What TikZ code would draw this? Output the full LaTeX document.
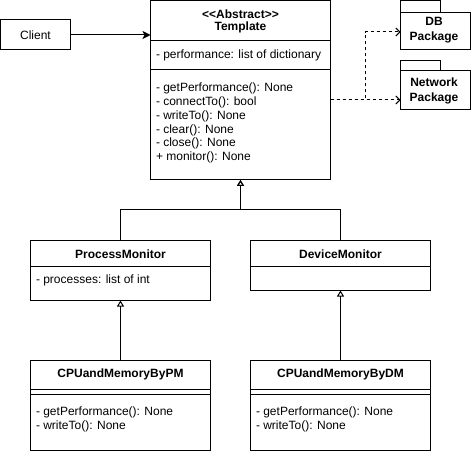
\documentclass[tikz,border=0pt]{standalone}
\usepackage{fontspec}
\setmainfont{Liberation Sans}
\usetikzlibrary{arrows.meta}
\begin{document}
\begin{tikzpicture}[x=1pt,y=-1pt,line width=1pt,
  box/.style={draw,rectangle,anchor=north west,inner sep=0pt,outer sep=0pt},
  txt/.style={anchor=west,inner sep=0pt,font=\fontsize{12}{14}\selectfont},
  ctxt/.style={inner sep=0pt,font=\fontsize{12}{14}\selectfont},
  btxt/.style={inner sep=0pt,font=\fontsize{12}{14}\selectfont\bfseries,align=center},
  gen/.style={-{Triangle[open,length=6pt,width=7pt]}},
  dep/.style={dash pattern=on 3pt off 3pt,-{Straight Barb[length=4pt,width=8pt]}}]
\useasboundingbox (0,0) rectangle (471,454);
% Client
\node[box,minimum width=70pt,minimum height=30pt] (client) at (0.5,20) {};
\node[ctxt] (clientt) at (35.5,35) {Client};
% Template
\node[box,minimum width=180pt,minimum height=179pt] (tmpl) at (150.5,1) {};
\draw (150.5,41) -- (330.5,41);
\draw (150.5,70) -- (330.5,70);
\node[btxt] (tmplt) at (240.5,21) {<{}<Abstract>{}>\\[-2pt]Template};
\node[txt] at (155.5,55) {- performance: list of dictionary};
\node[txt] at (155.5,88.5) {- getPerformance(): None};
\node[txt] at (155.5,102.3) {- connectTo(): bool};
\node[txt] at (155.5,116.1) {- writeTo(): None};
\node[txt] at (155.5,129.9) {- clear(): None};
\node[txt] at (155.5,143.7) {- close(): None};
\node[txt] at (155.5,157.5) {+ monitor(): None};
% Packages
\draw (400.5,13) -- (400.5,1) -- (440,1) -- (440,13);
\node[box,minimum width=70pt,minimum height=37pt] (db) at (400.5,13) {};
\node[btxt] at (434,30.5) {DB\\[1pt]Package};
\draw (400.5,71) -- (400.5,61) -- (440,61) -- (440,71);
\node[box,minimum width=70pt,minimum height=39pt] (net) at (400.5,71) {};
\node[btxt] at (434,90.5) {Network\\[1pt]Package};
% ProcessMonitor
\node[box,minimum width=180pt,minimum height=60pt] (pm) at (30.5,240.5) {};
\draw (30.5,266.5) -- (210.5,266.5);
\node[btxt] at (120.5,254) {ProcessMonitor};
\node[txt] at (35.5,280) {- processes: list of int};
% DeviceMonitor
\node[box,minimum width=180pt,minimum height=50pt] (dm) at (250.5,240.5) {};
\draw (250.5,266.5) -- (430.5,266.5);
\node[btxt] at (340.5,254) {DeviceMonitor};
% CPUandMemoryByPM
\node[box,minimum width=180pt,minimum height=90pt] (cpm) at (30.5,360.5) {};
\draw (30.5,389) -- (210.5,389);
\draw (30.5,394) -- (210.5,394);
\node[btxt] at (120.5,374) {CPUandMemoryByPM};
\node[txt] at (35.5,412) {- getPerformance(): None};
\node[txt] at (35.5,426) {- writeTo(): None};
% CPUandMemoryByDM
\node[box,minimum width=180pt,minimum height=90pt] (cdm) at (250.5,360.5) {};
\draw (250.5,389) -- (430.5,389);
\draw (250.5,394) -- (430.5,394);
\node[btxt] at (340.5,374) {CPUandMemoryByDM};
\node[txt] at (255.5,412) {- getPerformance(): None};
\node[txt] at (255.5,426) {- writeTo(): None};
% connectors
\draw[-{Stealth[length=8pt,width=8pt,inset=2pt]}] (client.east) -- (client.east -| tmpl.west);
\draw[gen] (pm.north) |- (240.5,210) -- (tmpl.south);
\draw[gen] (dm.north) |- (240.5,210) -- (tmpl.south);
\draw[gen] (cpm.north) -- (pm.south);
\draw[gen] (cdm.north) -- (dm.south);
\coordinate (src) at (330.5,100);
\draw[dep] (src) -- (365,100) |- (db.west |- 0,32);
\draw[dep] (src) -- (net.west |- src);
\end{tikzpicture}
\end{document}
